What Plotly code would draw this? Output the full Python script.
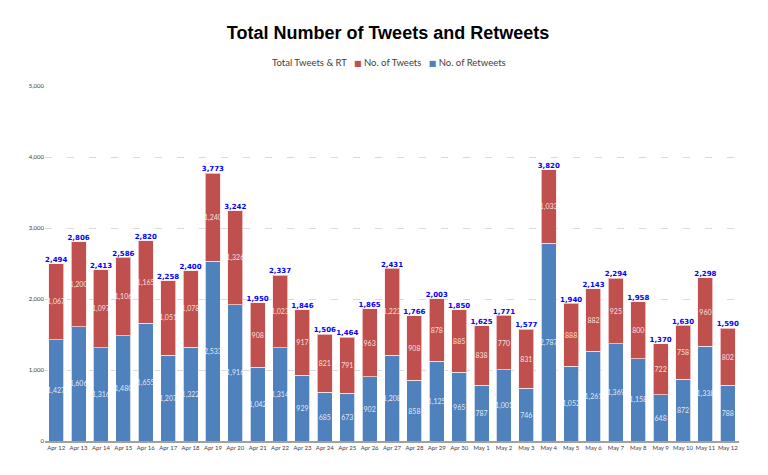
import plotly.graph_objects as go

dates = ["Apr 12","Apr 13","Apr 14","Apr 15","Apr 16","Apr 17","Apr 18","Apr 19","Apr 20",
         "Apr 21","Apr 22","Apr 23","Apr 24","Apr 25","Apr 26","Apr 27","Apr 28","Apr 29",
         "Apr 30","May 1","May 2","May 3","May 4","May 5","May 6","May 7","May 8","May 9",
         "May 10","May 11","May 12"]
retweets = [1427,1606,1316,1480,1655,1207,1322,2533,1916,1042,1314,929,685,673,902,1208,
            858,1125,965,787,1001,746,2787,1052,1261,1369,1158,648,872,1338,788]
tweets = [1067,1200,1097,1106,1165,1051,1078,1240,1326,908,1023,917,821,791,963,1223,
          908,878,885,838,770,831,1033,888,882,925,800,722,758,960,802]
totals = [2494,2806,2413,2586,2820,2258,2400,3773,3242,1950,2337,1846,1506,1464,1865,2431,
          1766,2003,1850,1625,1771,1577,3820,1940,2143,2294,1958,1370,1630,2298,1590]
y_ticks = [0, 1000, 2000, 3000, 4000, 5000]
series_names = ["Total Tweets & RT", "No. of Tweets", "No. of Retweets"]

RED = "#C0504D"
BLUE = "#4F81BD"
W, H = 760, 467
ML, MR, MT, MB = 37, 29, 78, 34

fig = go.Figure()
fig.add_trace(go.Bar(
    x=dates, y=retweets, name=series_names[2], marker_color=BLUE,
    marker_line=dict(color="rgba(255,255,255,0.7)", width=1),
    texttemplate="%{y:,}", textposition="inside", insidetextanchor="middle",
    textangle=0, constraintext="none",
    textfont=dict(color="rgba(255,255,255,0.85)", size=7, family="Lato"),
    showlegend=False))
fig.add_trace(go.Bar(
    x=dates, y=tweets, name=series_names[1], marker_color=RED,
    marker_line=dict(color="rgba(255,230,230,0.7)", width=1),
    texttemplate="%{y:,}", textposition="inside", insidetextanchor="middle",
    textangle=0, constraintext="none",
    textfont=dict(color="rgba(255,255,255,0.85)", size=7, family="Lato"),
    showlegend=False))
fig.add_trace(go.Scatter(
    x=dates, y=totals, mode="text", name=series_names[0],
    texttemplate="<b>%{y:,}</b>", textposition="top center",
    textfont=dict(color="#0000FF", size=7, family="DejaVu Sans"),
    showlegend=False, hoverinfo="skip", cliponaxis=False))

sp = "\u00a0"
sq = "<span style='font-family:DejaVu Sans;font-size:8px;color:{c}'>\u25a0</span>"
legend_text = (series_names[0] + sp * 3 + sq.format(c=RED) + sp + series_names[1]
               + sp * 3 + sq.format(c=BLUE) + sp + series_names[2])
plot_w = W - ML - MR
plot_h = H - MT - MB
fig.add_annotation(text=legend_text, xref="paper", yref="paper",
                   x=(381 - ML) / plot_w, y=(H - 54 - MB) / plot_h,
                   xanchor="center", yanchor="middle", showarrow=False,
                   font=dict(family="Lato", size=9.5, color="#404040"))

fig.update_layout(
    width=W, height=H,
    barmode="stack", bargap=0.33,
    plot_bgcolor="white", paper_bgcolor="white",
    margin=dict(l=ML, r=MR, t=MT, b=MB, autoexpand=False),
    title=dict(text="<b>Total Number of Tweets and Retweets</b>", x=0.5, xanchor="center",
               xref="container", yref="container",
               y=1 - 25 / H, yanchor="middle",
               font=dict(family="Liberation Sans", size=18, color="black")),
    showlegend=False,
    font=dict(family="Lato", color="#404040"),
)
fig.update_yaxes(range=[0, 5000], tickvals=y_ticks, tickformat=",",
                 tickfont=dict(size=6, color="#404040"),
                 showgrid=True, gridcolor="#D9D9D9", griddash="7px,15px", gridwidth=1,
                 zeroline=False, showline=False, ticks="")
fig.update_xaxes(type="category", range=[-0.5, len(dates) - 0.5],
                 tickfont=dict(size=6, color="#404040"),
                 showline=True, linecolor="#A0A0A0", linewidth=1.5, ticks="",
                 tickangle=0)
fig.write_html("out.html")
